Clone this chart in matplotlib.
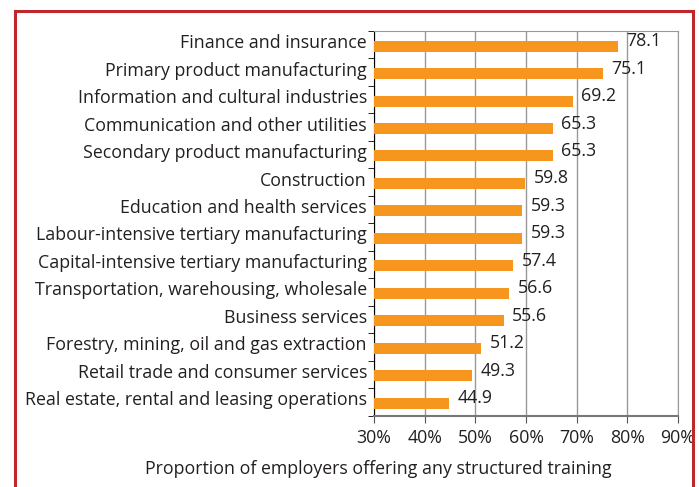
import matplotlib
matplotlib.use("Agg")
import matplotlib.pyplot as plt
from matplotlib.patches import Rectangle
from matplotlib.transforms import ScaledTranslation, blended_transform_factory
import numpy as np

categories = [
    "Finance and insurance",
    "Primary product manufacturing",
    "Information and cultural industries",
    "Communication and other utilities",
    "Secondary product manufacturing",
    "Construction",
    "Education and health services",
    "Labour-intensive tertiary manufacturing",
    "Capital-intensive tertiary manufacturing",
    "Transportation, warehousing, wholesale",
    "Business services",
    "Forestry, mining, oil and gas extraction",
    "Retail trade and consumer services",
    "Real estate, rental and leasing operations",
]
values = [78.1, 75.1, 69.2, 65.3, 65.3, 59.8, 59.3, 59.3, 57.4, 56.6, 55.6, 51.2, 49.3, 44.9]
xticks = [30, 40, 50, 60, 70, 80, 90]
xticklabels = ["30%", "40%", "50%", "60%", "70%", "80%", "90%"]

plt.rcParams['font.family'] = ['Open Sans', 'DejaVu Sans']
txt = '#231f20'
fs = 12.8

fig = plt.figure(figsize=(6.99, 4.87), dpi=100)
fig.patch.set_facecolor('white')
ax = fig.add_axes([374/699, 1-415.5/487, (678-374)/699, (415.5-31)/487])

n = len(categories)
y = np.arange(n)
ax.barh(y + 0.05, values, height=0.4, color='#F7961E', zorder=3)
ax.set_ylim(n - 0.5, -0.5)
ax.set_xlim(30, 90)
ax.set_xticks(xticks)
ax.set_xticklabels(xticklabels, fontsize=fs, color=txt)
ax.set_yticks([])
ax.set_yticks(np.arange(n + 1) - 0.5, minor=True)
ax.tick_params(axis='y', which='minor', length=4, direction='out', color='black')
ax.tick_params(axis='x', length=5, direction='out', color='#555555', pad=5)
ax.grid(axis='x', color='#999999', linewidth=1, zorder=0)
for s in ['top', 'right']:
    ax.spines[s].set_color('#999999')
ax.spines['bottom'].set_color('#777777')
ax.spines['bottom'].set_linewidth(1.5)
ax.spines['left'].set_color('black')

lab_tr = blended_transform_factory(ax.transAxes, ax.transData) + ScaledTranslation(-0.07, 0.015, fig.dpi_scale_trans)
for yi, c in zip(y, categories):
    ax.text(0, yi, c, transform=lab_tr, fontsize=fs, color=txt, ha='right', va='center')

for yi, v in zip(y, values):
    ax.text(v + 1.7, yi - 0.13, f"{v:.1f}", fontsize=fs, color=txt, va='center', ha='left', zorder=4)

fig.text(378/699, 1-469/487, "Proportion of employers offering any structured training",
         fontsize=fs, color=txt, ha='center', va='center')

fig.patches.append(Rectangle((14.5/699, -0.1), (693-14.5)/699, 1.1 - 10.5/487,
                             transform=fig.transFigure, fill=False, edgecolor='#C0272D', linewidth=2.2))

fig.savefig("out.png", dpi=100)
